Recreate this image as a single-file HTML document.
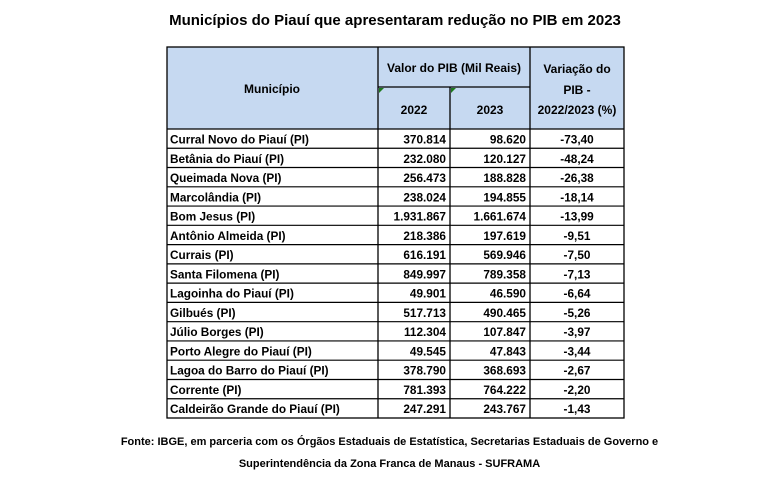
<!DOCTYPE html>
<html><head><meta charset="utf-8"><style>
body{margin:0;background:#fff;}
svg text{font-family:"Liberation Sans",sans-serif;font-weight:bold;fill:#000;}
</style></head><body>
<svg width="779" height="497" viewBox="0 0 779 497" xmlns="http://www.w3.org/2000/svg">
<rect width="779" height="497" fill="#fff"/>
<text x="395" y="25" font-size="15" text-anchor="middle">Municípios do Piauí que apresentaram redução no PIB em 2023</text>
<rect x="167" y="47" width="457" height="82" fill="#c6d9f1"/>
<g stroke="#000" stroke-width="1.3" fill="none">
<rect x="167" y="47" width="457" height="371"/>
<line x1="378" y1="47" x2="378" y2="418"/>
<line x1="450" y1="87" x2="450" y2="418"/>
<line x1="530" y1="47" x2="530" y2="418"/>
<line x1="378" y1="87" x2="530" y2="87"/>
<line x1="167" y1="129" x2="624" y2="129"/>
</g>
<polygon points="379,88 384,88 379,93" fill="#1e7a1e"/>
<polygon points="451,88 456,88 451,93" fill="#1e7a1e"/>
<g font-size="12" text-anchor="middle">
<text x="272" y="93">Município</text>
<text x="454" y="72">Valor do PIB (Mil Reais)</text>
<text x="414" y="114">2022</text>
<text x="490" y="114">2023</text>
<text x="577" y="73">Variação do</text>
<text x="577" y="94">PIB -</text>
<text x="577" y="114">2022/2023 (%)</text>
</g>
<g id="rows" font-size="11.8"></g>
</svg>
<script>
var d=[["Curral Novo do Piauí (PI)","370.814","98.620","-73,40"],["Betânia do Piauí (PI)","232.080","120.127","-48,24"],["Queimada Nova (PI)","256.473","188.828","-26,38"],["Marcolândia (PI)","238.024","194.855","-18,14"],["Bom Jesus (PI)","1.931.867","1.661.674","-13,99"],["Antônio Almeida (PI)","218.386","197.619","-9,51"],["Currais (PI)","616.191","569.946","-7,50"],["Santa Filomena (PI)","849.997","789.358","-7,13"],["Lagoinha do Piauí (PI)","49.901","46.590","-6,64"],["Gilbués (PI)","517.713","490.465","-5,26"],["Júlio Borges (PI)","112.304","107.847","-3,97"],["Porto Alegre do Piauí (PI)","49.545","47.843","-3,44"],["Lagoa do Barro do Piauí (PI)","378.790","368.693","-2,67"],["Corrente (PI)","781.393","764.222","-2,20"],["Caldeirão Grande do Piauí (PI)","247.291","243.767","-1,43"]];
var g=document.getElementById('rows'),s='',h=289/15;
for(var i=0;i<15;i++){var y=129+h*i,ty=y+14.5;
if(i>0)s+='<line x1="167" y1="'+y+'" x2="624" y2="'+y+'" stroke="#000" stroke-width="1.2"/>';
s+='<text x="170" y="'+ty+'">'+d[i][0]+'</text>';
s+='<text x="446" y="'+ty+'" text-anchor="end">'+d[i][1]+'</text>';
s+='<text x="526" y="'+ty+'" text-anchor="end">'+d[i][2]+'</text>';
s+='<text x="577" y="'+ty+'" text-anchor="middle">'+d[i][3]+'</text>';}
g.innerHTML=s;
</script>
<div style="position:absolute;left:0;top:431px;width:779px;text-align:center;font:bold 11px 'Liberation Sans',sans-serif;line-height:22px;">Fonte: IBGE, em parceria com os Órgãos Estaduais de Estatística, Secretarias Estaduais de Governo e<br>Superintendência da Zona Franca de Manaus - SUFRAMA</div>
</body></html>
